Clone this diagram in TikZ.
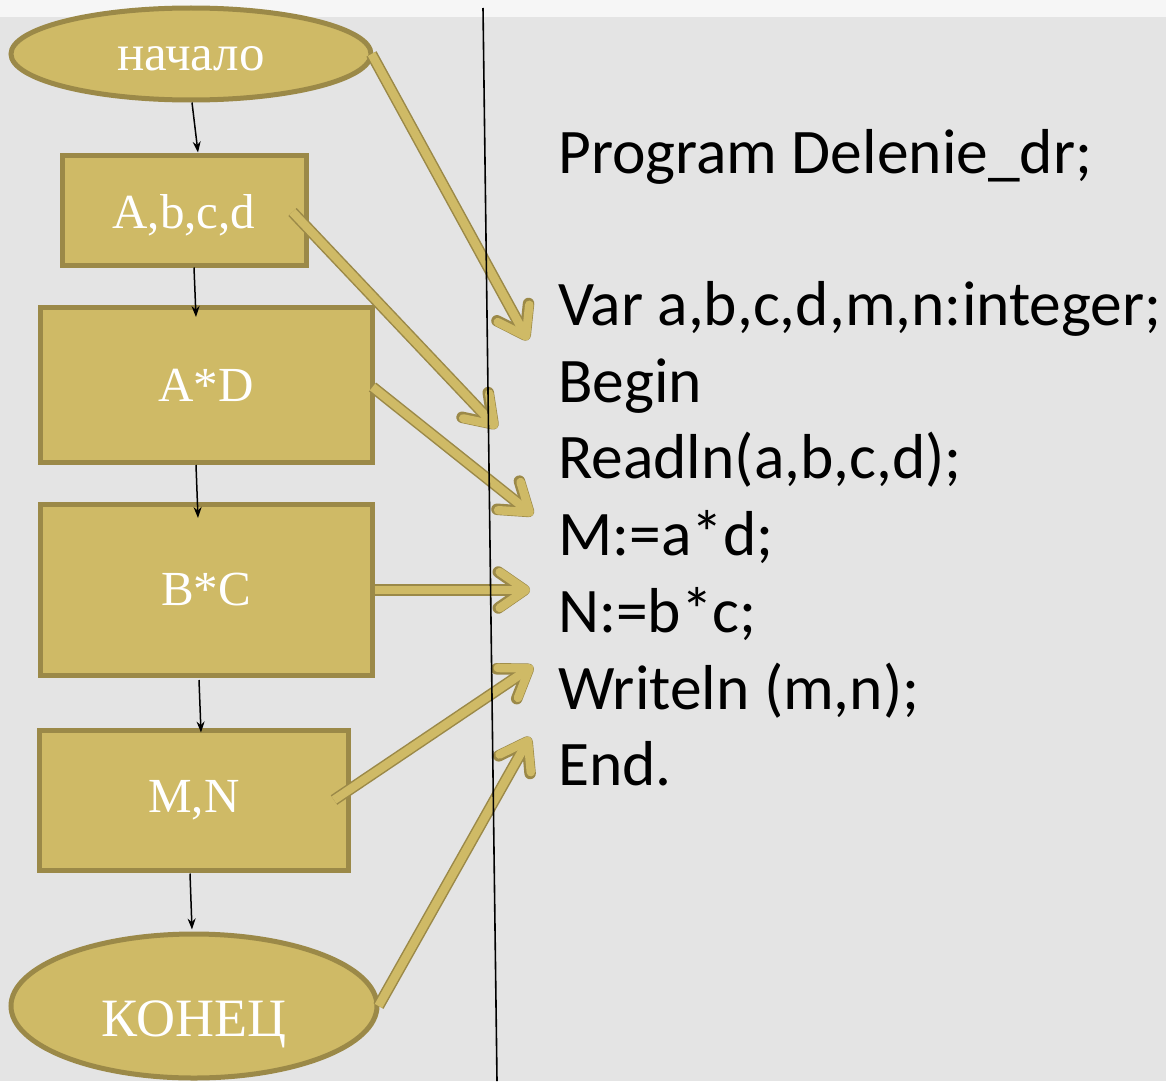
\documentclass[tikz,border=0pt]{standalone}
\usepackage{fontspec}
\setmainfont{Liberation Serif}
\newfontfamily\codefont{Carlito}
\usetikzlibrary{arrows.meta,calc,shapes.geometric}
\definecolor{bggray}{RGB}{228,228,228}
\definecolor{topstrip}{RGB}{246,246,246}
\definecolor{goldfill}{RGB}{207,186,102}
\definecolor{goldedge}{RGB}{155,137,72}
\begin{document}
\begin{tikzpicture}[x=1pt,y=-1pt,
  blockbox/.style={draw=goldedge,fill=goldfill,line width=5pt,inner sep=0pt,
     font=\fontsize{49}{52}\selectfont,text=white},
  termshape/.style={ellipse,draw=goldedge,fill=goldfill,line width=5pt,inner sep=0pt,
     text=white},
  flowarrow/.style={line width=1.5pt,-{Stealth[length=11pt,width=8pt]}},
  bigouter/.style={draw=goldedge,line width=11.5pt,
     -{Straight Barb[length=26pt,width=36pt,round]}},
  biginner/.style={draw=goldfill,line width=8.5pt,
     -{Straight Barb[length=26pt,width=36pt,round]}},
  codeline/.style={anchor=base west,inner sep=0pt,
     font=\codefont\fontsize{63.5}{70}\selectfont,text=black}
]
\useasboundingbox (0,0) rectangle (1166,1081);
\fill[bggray] (0,0) rectangle (1166,1081);
\fill[topstrip] (0,0) rectangle (1166,17);

% flowchart nodes
\node[termshape,minimum width=360pt,minimum height=92pt,
      font=\fontsize{51}{54}\selectfont] (s) at (191,54) {\raisebox{-17pt}[0pt][0pt]{начало}};
\node[blockbox,minimum width=244pt,minimum height=110pt] (b1) at (184,210) {\raisebox{-18pt}[0pt][0pt]{A,b,c,d}};
\node[blockbox,minimum width=332pt,minimum height=155pt] (b2) at (206,385) {A*D};
\node[blockbox,minimum width=332pt,minimum height=171pt] (b3) at (206,590) {B*C};
\node[blockbox,minimum width=309pt,minimum height=140pt] (b4) at (194,800) {M,N};
\node[termshape,minimum width=366pt,minimum height=144pt,
      font=\fontsize{54}{57}\selectfont] (e) at (194,1006) {\raisebox{-30pt}[0pt][0pt]{КОНЕЦ}};

% thin flow arrows
\draw[flowarrow] ($(s.south)+(1,0)$) -- ($(b1.north)+(14,0)$);
\draw[flowarrow] ($(b1.south)+(10,0)$) -- ($(b2.north)+(-10,12)$);
\draw[flowarrow] ($(b2.south)+(-10,0)$) -- ($(b3.north)+(-8,16)$);
\draw[flowarrow] ($(b3.south)+(-7,2)$) -- ($(b4.north)+(7,5)$);
\draw[flowarrow] ($(b4.south)+(-4,1)$) -- ($(e.north)+(-2,-2)$);

% program text
\node[codeline] (l1) at (558,173) {Program Delenie\_dr;};
\node[codeline] (l2) at (558,325) {Var a,b,c,d,m,n:integer;};
\node[codeline] (l3) at (558,402) {Begin};
\node[codeline] (l4) at (558,478) {Readln(a,b,c,d);};
\node[codeline] (l5) at (558,555) {M:=a*d;};
\node[codeline] (l6) at (558,632) {N:=b*c;};
\node[codeline] (l7) at (558,709) {Writeln (m,n);};
\node[codeline] (l8) at (558,785) {End.};

% arrow targets
\coordinate (t1) at (528,340);
\coordinate (t2) at (497,428);
\coordinate (t3) at (533,515);
\coordinate (t4) at (530,590);
\coordinate (t5) at (533,666);
\coordinate (t6) at (530,737);
\coordinate (f1) at ($(s.east)+(-2,0)$);
\coordinate (f2) at ($(b1.east)+(-16,2)$);
\coordinate (f3) at ($(b2.east)+(-2,2)$);
\coordinate (f4) at (b3.east);
\coordinate (f5) at ($(b4.east)+(-17,0)$);
\coordinate (f6) at ($(e.east)+(-1,0)$);

% big golden arrows
\foreach \i in {1,...,6}{
  \draw[bigouter] (f\i) -- (t\i);
  \draw[biginner] (f\i) -- (t\i);
}

% divider line
\draw[line width=1.6pt,black] (483,8) -- (497,1081);
\end{tikzpicture}
\end{document}
